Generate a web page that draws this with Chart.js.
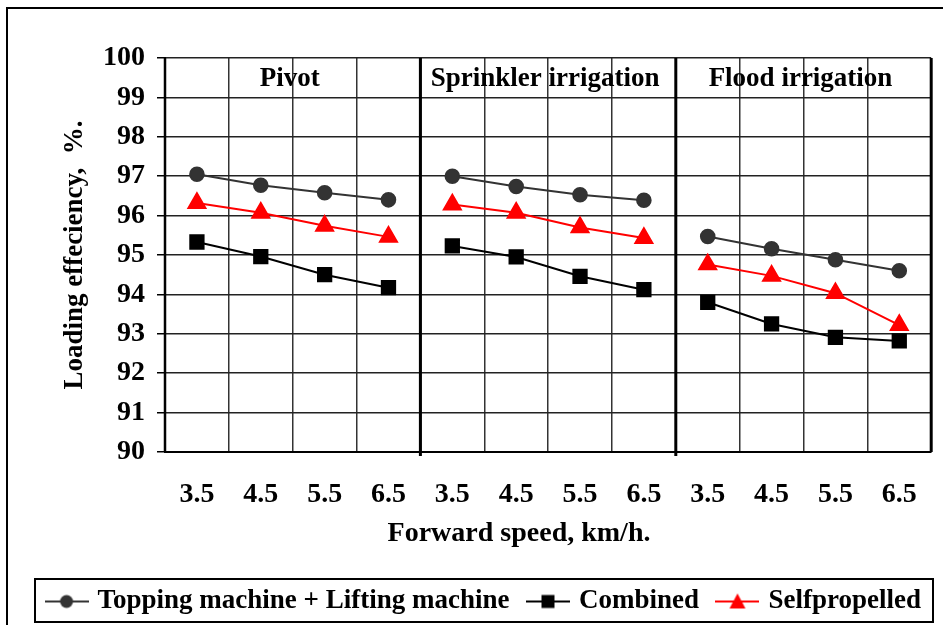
<!DOCTYPE html>
<html>
<head>
<meta charset="utf-8">
<script src="https://cdn.jsdelivr.net/npm/chart.js@4.4.1/dist/chart.umd.min.js"></script>
<style>
  html, body { margin: 0; padding: 0; background: #fff; }
  #wrap { width: 943px; height: 625px; position: relative; }
</style>
</head>
<body>
<div id="wrap"><canvas id="myChart" width="943" height="625"></canvas></div>
<script>
// panels and x categories (forward speed, km/h)
var panels = ["Pivot", "Sprinkler irrigation", "Flood irrigation"];
var speeds = ["3.5", "4.5", "5.5", "6.5"];

// loading efficiency, % (Pivot | Sprinkler | Flood)
var topping = [97.05, 96.77, 96.58, 96.4, 97.0, 96.74, 96.53, 96.39, 95.47, 95.16, 94.88, 94.6];
var combined = [95.33, 94.96, 94.5, 94.17, 95.23, 94.95, 94.46, 94.12, 93.8, 93.25, 92.91, 92.82];
var selfpropelled = [96.32, 96.07, 95.74, 95.46, 96.28, 96.07, 95.7, 95.43, 94.76, 94.47, 94.03, 93.22];

var yTicks = [90, 91, 92, 93, 94, 95, 96, 97, 98, 99, 100];
var xTitle = "Forward speed, km/h.";

var labels = [];
panels.forEach(function () {
  speeds.forEach(function (s) { labels.push(s); });
});

var FONT = "'Liberation Serif', 'Times New Roman', serif";

// legend symbol: short line with the marker in the middle
function legendSymbol(color, style) {
  var c = document.createElement("canvas");
  c.width = 44;
  c.height = 20;
  var g = c.getContext("2d");
  g.strokeStyle = color;
  g.lineWidth = 2;
  g.beginPath();
  g.moveTo(0, 10);
  g.lineTo(44, 10);
  g.stroke();
  g.fillStyle = color;
  g.beginPath();
  if (style === "circle") {
    g.arc(22, 10, 6.5, 0, Math.PI * 2);
  } else if (style === "rect") {
    g.rect(15.5, 3.5, 13, 13);
  } else {
    g.moveTo(22, 2);
    g.lineTo(30, 17);
    g.lineTo(14, 17);
    g.closePath();
  }
  g.fill();
  return c;
}

// break the line between panels
function gapAt(ctx) {
  return ctx.p0DataIndex % speeds.length === speeds.length - 1 ? "rgba(0,0,0,0)" : undefined;
}

var framePlugin = {
  id: "frame",
  afterLayout: function (chart) {
    // legend sits a bit right of centre in the original
    chart.legend.left += 18;
    chart.legend.right += 18;
  },
  beforeDraw: function (chart) {
    var c = chart.ctx;
    c.save();
    c.fillStyle = "#fff";
    c.fillRect(0, 0, chart.width, chart.height);
    c.strokeStyle = "#000";
    c.lineWidth = 2;
    c.strokeRect(7, 8, chart.width + 10, chart.height + 10);
    c.restore();
  },
  afterDraw: function (chart) {
    var c = chart.ctx;
    var x = chart.scales.x;
    var y = chart.scales.y;
    var area = chart.chartArea;
    var step = x.getPixelForValue(1) - x.getPixelForValue(0);
    c.save();
    // panel separators and right border
    c.strokeStyle = "#000";
    c.lineWidth = 3;
    for (var p = 1; p <= panels.length; p++) {
      var xp = x.getPixelForValue(p * speeds.length - 1) + step / 2;
      c.beginPath();
      c.moveTo(xp, area.top);
      c.lineTo(xp, area.bottom + (p === panels.length ? 0 : 4));
      c.stroke();
    }
    // left border
    c.lineWidth = 2.5;
    c.beginPath();
    c.moveTo(area.left, area.top);
    c.lineTo(area.left, area.bottom);
    c.stroke();
    // panel titles
    c.fillStyle = "#000";
    c.font = "bold 27px " + FONT;
    c.textAlign = "center";
    c.textBaseline = "middle";
    panels.forEach(function (name, i) {
      var a = x.getPixelForValue(i * speeds.length);
      var b = x.getPixelForValue(i * speeds.length + speeds.length - 1);
      c.fillText(name, (a + b) / 2 - 3, y.getPixelForValue(99.5) + 1);
    });
    // x axis title (centred on the figure, not on the plot)
    c.font = "bold 28px " + FONT;
    c.fillText(xTitle, 519, x.bottom - 33);
    // legend box
    var hb = chart.legend.legendHitBoxes;
    if (hb && hb.length) {
      var l = hb[0].left - 14;
      var r = hb[hb.length - 1].left + hb[hb.length - 1].width + 12;
      var t = hb[0].top - 9;
      var h = hb[0].height + 16;
      c.lineWidth = 2;
      c.strokeRect(l, t, r - l, h);
    }
    c.restore();
  }
};

var symbols = [
  legendSymbol("#333333", "circle"),
  legendSymbol("#000000", "rect"),
  legendSymbol("#ff0000", "triangle")
];

const ctx = document.getElementById("myChart");
const myChart = new Chart(ctx, {
  type: "line",
  data: {
    labels: labels,
    datasets: [
      {
        label: "Topping machine + Lifting machine",
        data: topping,
        borderColor: "#333333",
        backgroundColor: "#333333",
        borderWidth: 2,
        pointStyle: "circle",
        pointRadius: 6.8,
        segment: { borderColor: gapAt },
      },
      {
        label: "Combined",
        data: combined,
        borderColor: "#000000",
        backgroundColor: "#000000",
        borderWidth: 2,
        pointStyle: "rect",
        pointRadius: 9.4,
        segment: { borderColor: gapAt },
      },
      {
        label: "Selfpropelled",
        data: selfpropelled,
        borderColor: "#ff0000",
        backgroundColor: "#ff0000",
        borderWidth: 2,
        pointStyle: "triangle",
        pointRadius: 9.8,
        segment: { borderColor: gapAt },
      },
    ],
  },
  options: {
    responsive: false,
    animation: false,
    layout: { padding: { left: 0, right: 9, top: 58, bottom: 0 } },
    plugins: {
      tooltip: { enabled: false },
      legend: {
        position: "bottom",
        labels: {
          usePointStyle: true,
          pointStyleWidth: 35,
          padding: 21,
          color: "#000",
          font: { family: FONT, size: 27, weight: "bold", lineHeight: 1.1 },
          generateLabels: function (chart) {
            return chart.data.datasets.map(function (ds, i) {
              return {
                text: ds.label,
                pointStyle: symbols[i],
                fillStyle: ds.backgroundColor,
                strokeStyle: ds.borderColor,
                lineWidth: 0,
                datasetIndex: i,
                hidden: false,
                fontColor: "#000",
              };
            });
          },
        },
      },
    },
    scales: {
      x: {
        offset: true,
        grid: {
          offset: true,
          color: "#333",
          lineWidth: 1.5,
          drawTicks: true,
          tickLength: 20,
          tickColor: "rgba(0,0,0,0)",
        },
        border: { color: "#000", width: 2 },
        ticks: {
          color: "#000",
          padding: 7,
          maxRotation: 0,
          autoSkip: false,
          font: { family: FONT, size: 28, weight: "bold", lineHeight: 1.15 },
        },
        afterFit: function (scale) {
          scale.height = 115;
          scale.paddingLeft = 0;
          scale.paddingRight = 0;
        },
      },
      y: {
        min: yTicks[0],
        max: yTicks[yTicks.length - 1],
        afterBuildTicks: function (scale) {
          scale.ticks = yTicks.map(function (v) { return { value: v }; });
        },
        grid: { color: "#222", lineWidth: 1.5, tickLength: 8, tickColor: "#000" },
        border: { color: "#000", width: 2 },
        ticks: {
          color: "#000",
          padding: 12,
          autoSkip: false,
          font: { family: FONT, size: 28, weight: "bold" },
        },
        title: {
          display: true,
          text: "Loading effeciency,  %.",
          color: "#000",
          font: { family: FONT, size: 27, weight: "bold", lineHeight: 1.15 },
          padding: { top: 60, bottom: 0 },
        },
        afterFit: function (scale) { scale.width = 165; },
      },
    },
  },
  plugins: [framePlugin],
});
</script>
</body>
</html>
